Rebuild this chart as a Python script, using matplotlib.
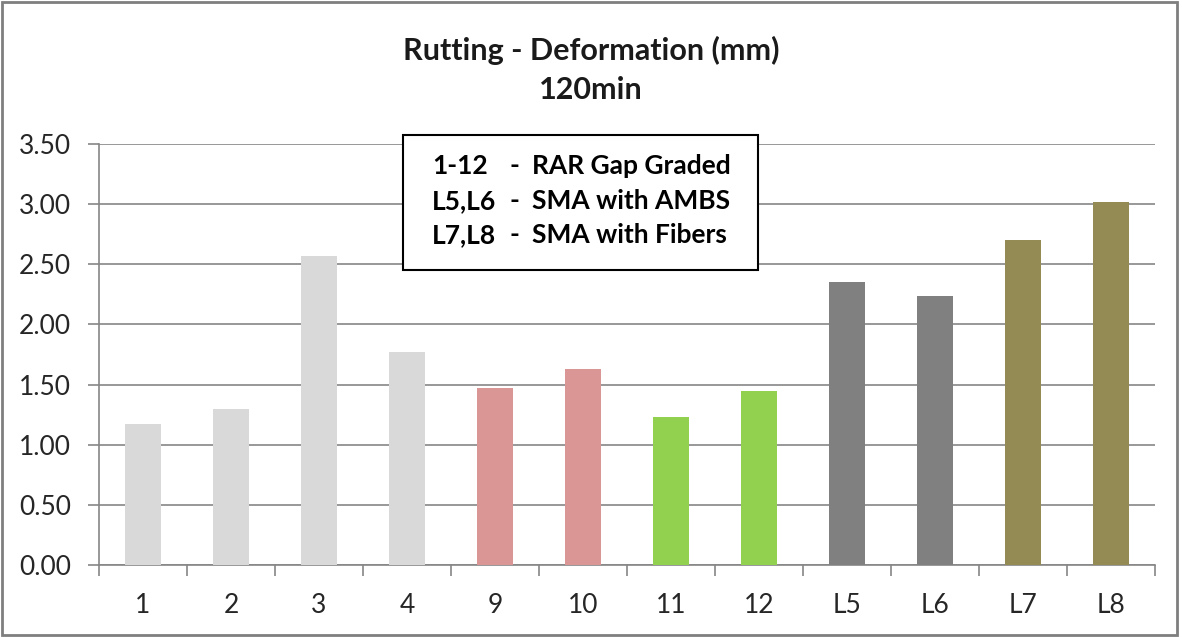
import matplotlib.pyplot as plt
from matplotlib.patches import Rectangle
import numpy as np

plt.rcParams['font.family'] = ['Lato', 'DejaVu Sans']

categories = ['1', '2', '3', '4', '9', '10', '11', '12', 'L5', 'L6', 'L7', 'L8']
deformation = [1.17, 1.30, 2.57, 1.77, 1.47, 1.63, 1.23, 1.45, 2.35, 2.24, 2.70, 3.02]
bar_colors = ['#D9D9D9', '#D9D9D9', '#D9D9D9', '#D9D9D9',
              '#D99694', '#D99694', '#92D050', '#92D050',
              '#808080', '#808080', '#948A54', '#948A54']

legend_codes = ['1-12', 'L5,L6', 'L7,L8']
legend_names = ['RAR Gap Graded', 'SMA with AMBS', 'SMA with Fibers']

W, H = 1182, 637
fig = plt.figure(figsize=(W / 100, H / 100), dpi=100)
ax = fig.add_axes([99 / W, 1 - 565 / H, (1155 - 99) / W, (565 - 144) / H])

x = np.arange(len(categories))
ax.bar(x, deformation, width=0.4, color=bar_colors, zorder=3)

ax.set_xlim(-0.5, len(categories) - 0.5)
ax.set_ylim(0, 3.5)
ax.set_yticks(np.arange(0, 3.51, 0.5))
ax.set_yticklabels(['%.2f' % v for v in np.arange(0, 3.51, 0.5)])
ax.set_xticks(x)
ax.set_xticklabels(categories)
ax.set_xticks(np.arange(-0.5, len(categories), 1), minor=True)

grid_c = '#868686'
ax.yaxis.grid(True, color=grid_c, linewidth=1.2, zorder=0)
for s in ['top', 'right']:
    ax.spines[s].set_visible(False)
for s in ['left', 'bottom']:
    ax.spines[s].set_color(grid_c)
    ax.spines[s].set_linewidth(1.2)

ax.tick_params(axis='x', which='major', length=0, pad=20, labelsize=19, colors='#262626')
ax.tick_params(axis='x', which='minor', length=8, color=grid_c, width=1.2)
ax.tick_params(axis='y', length=8, color=grid_c, width=1.2, pad=12, labelsize=19, labelcolor='#262626')

fig.text(0.5, 1 - 50 / H, 'Rutting - Deformation (mm)', ha='center', va='center',
         fontsize=22, fontweight='bold', color='#1a1a1a')
fig.text(0.5, 1 - 90 / H, '120min', ha='center', va='center',
         fontsize=22, fontweight='bold', color='#1a1a1a')

# text box with series description
fig.patches.append(Rectangle((403 / W, 1 - 270 / H), (758 - 403) / W, (270 - 135) / H,
                             transform=fig.transFigure, facecolor='white',
                             edgecolor='black', linewidth=1.5, zorder=5))
line_y = [166, 201, 235]
for code, name, yy in zip(legend_codes, legend_names, line_y):
    fig.text(432 / W, 1 - yy / H, code, ha='left', va='center', fontsize=19,
             fontweight='bold', zorder=6)
    fig.text(514 / W, 1 - yy / H, '-', ha='center', va='center', fontsize=19,
             fontweight='bold', zorder=6)
    fig.text(532 / W, 1 - yy / H, name, ha='left', va='center', fontsize=19,
             fontweight='bold', zorder=6)

# outer chart border
fig.patches.append(Rectangle((2 / W, 2 / H), (1177 - 2) / W, (H - 4) / H,
                             transform=fig.transFigure, fill=False,
                             edgecolor='#7f7f7f', linewidth=2))

fig.savefig('out.png', dpi=100)
